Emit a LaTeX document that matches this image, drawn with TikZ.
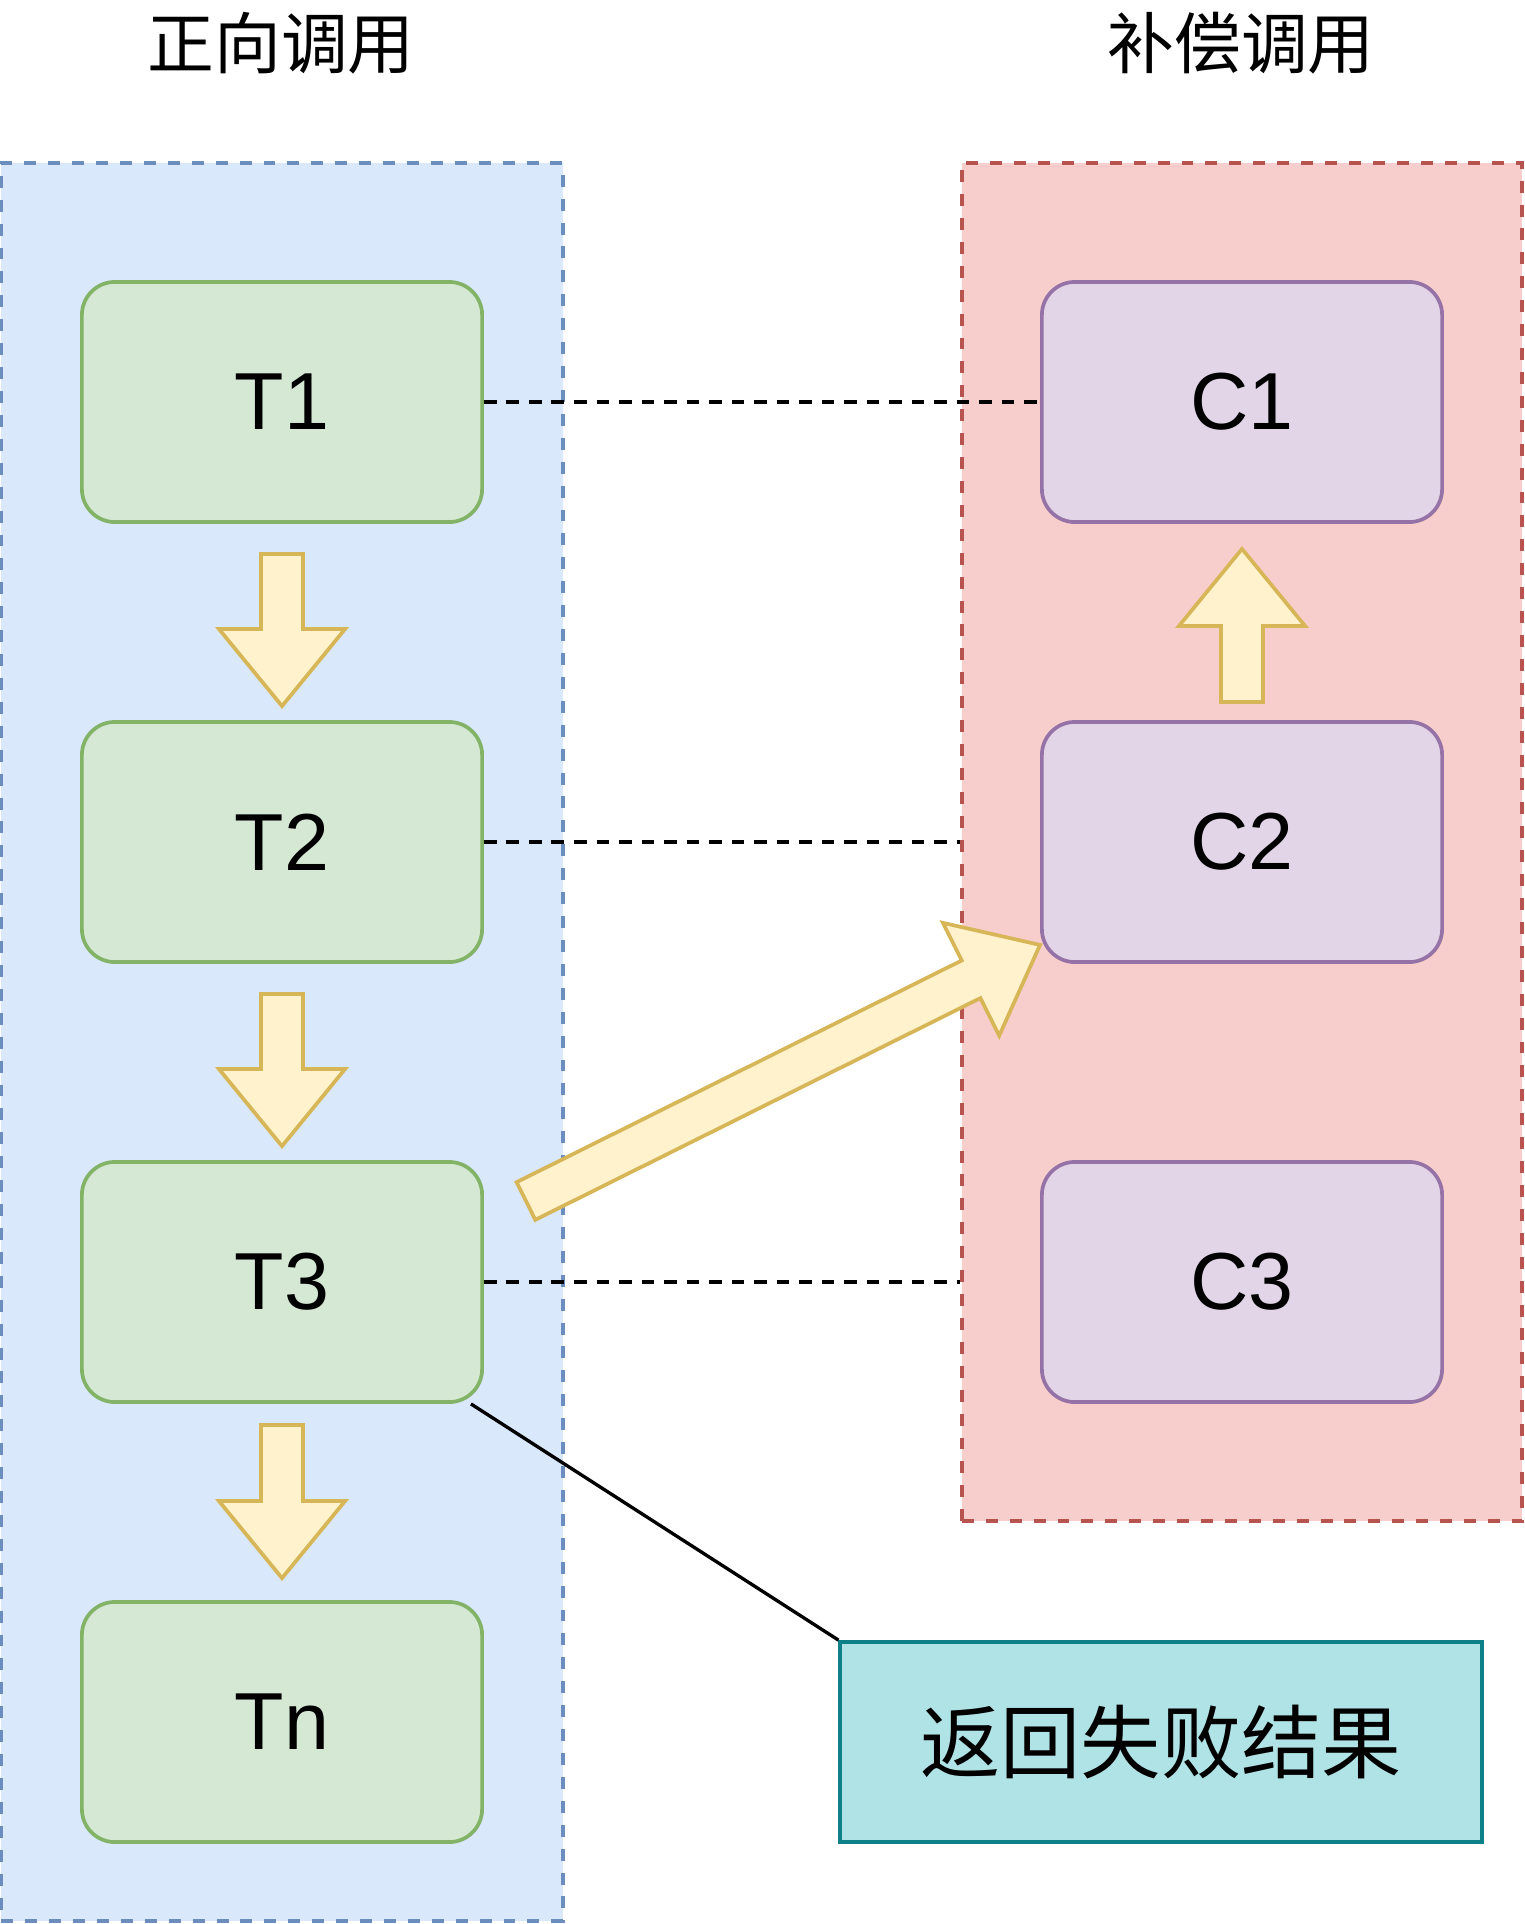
\documentclass[tikz,border=0pt]{standalone}
\usepackage{fontspec}
\setmainfont{Liberation Sans}
\newfontfamily\cjk{Noto Sans CJK SC}
\usepackage{tikz}
\usetikzlibrary{calc}
\definecolor{fwdfill}{HTML}{DAE8FC}
\definecolor{fwdline}{HTML}{6C8EBF}
\definecolor{compfill}{HTML}{F8CECC}
\definecolor{compline}{HTML}{B85450}
\definecolor{tfill}{HTML}{D5E8D4}
\definecolor{tline}{HTML}{82B366}
\definecolor{cfill}{HTML}{E1D5E7}
\definecolor{cline}{HTML}{9673A6}
\definecolor{arrfill}{HTML}{FFF2CC}
\definecolor{arrline}{HTML}{D6B656}
\definecolor{resfill}{HTML}{B0E3E6}
\definecolor{resline}{HTML}{0E8088}
\tikzset{
  lane/.style = {draw=#1line, fill=#1fill, line width=1.1pt, dash pattern=on 3.4pt off 3.4pt, inner sep=0pt},
  stepbox/.style = {draw=#1line, fill=#1fill, line width=1.05pt, rounded corners=0.33cm,
    minimum width=4cm, minimum height=2.4cm, font=\fontsize{23pt}{23pt}\selectfont},
  fatarrow/.style = {draw=arrline, fill=arrfill, line width=1.05pt},
  dashlink/.style = {line width=1.1pt, dash pattern=on 3.6pt off 2.8pt},
  title/.style = {font=\cjk\fontsize{19pt}{19pt}\selectfont}
}
\newcommand{\fatarrow}[2]{%
  \path ($(#2)!0.77cm!(#1)$) coordinate (hb);
  \draw[fatarrow] ($(#1)!0.21cm!90:(#2)$) -- ($(hb)!0.21cm!90:(#2)$) -- ($(hb)!0.63cm!90:(#2)$)
    -- (#2) -- ($(hb)!0.63cm!-90:(#2)$) -- ($(hb)!0.21cm!-90:(#2)$) -- ($(#1)!0.21cm!-90:(#2)$) -- cycle;
}

\begin{document}
\begin{tikzpicture}[x=0.01cm, y=-0.01cm]
  \useasboundingbox (0,0) rectangle (1524,1924);

  \node[title] (fwdtitle) at (281,43) {正向调用};
  \node[title] (comptitle) at (1241,43) {补偿调用};

  \node[lane=fwd, minimum width=5.61cm, minimum height=17.57cm] (fwd) at (282,1042) {};
  \node[lane=comp, minimum width=5.6cm, minimum height=13.58cm] (comp) at (1242,842) {};

  \node[stepbox=t] (t1) at (282,402) {T1};
  \node[stepbox=t] (t2) at (282,842) {T2};
  \node[stepbox=t] (t3) at (282,1282) {T3};
  \node[stepbox=t] (tn) at (282,1722) {Tn};

  \node[stepbox=c] (c1) at (1242,402) {C1};
  \node[stepbox=c] (c2) at (1242,842) {C2};
  \node[stepbox=c] (c3) at (1242,1282) {C3};

  \node[draw=resline, fill=resfill, line width=1.05pt, minimum width=6.41cm, minimum height=2cm,
    font=\cjk\fontsize{22.8pt}{22.8pt}\selectfont] (res) at (1161,1742) {返回失败结果};

  \draw[dashlink] (t1.east) -- (c1.west);
  \draw[dashlink] (t2.east) -- (t2.east -| comp.west);
  \draw[dashlink] (t3.east) -- (t3.east -| comp.west);

  \draw[line width=0.95pt] ([xshift=-0.13cm]t3.south east) -- (res.north west);

  \coordinate (a1s) at ([yshift=-0.3cm]t1.south);
  \coordinate (a1e) at ([yshift=0.14cm]t2.north);
  \coordinate (a2s) at ([yshift=-0.3cm]t2.south);
  \coordinate (a2e) at ([yshift=0.14cm]t3.north);
  \coordinate (a3s) at ([yshift=-0.21cm]t3.south);
  \coordinate (a3e) at ([yshift=0.22cm]tn.north);
  \coordinate (b1s) at ([yshift=0.18cm]c2.north);
  \coordinate (b1e) at ([yshift=-0.25cm]c1.south);
  \coordinate (ds) at ([shift={(42,-81)}]t3.east);
  \coordinate (de) at ([shift={(0,-19)}]c2.south west);

  \fatarrow{a1s}{a1e}
  \fatarrow{a2s}{a2e}
  \fatarrow{a3s}{a3e}
  \fatarrow{b1s}{b1e}
  \fatarrow{ds}{de}
\end{tikzpicture}
\end{document}
